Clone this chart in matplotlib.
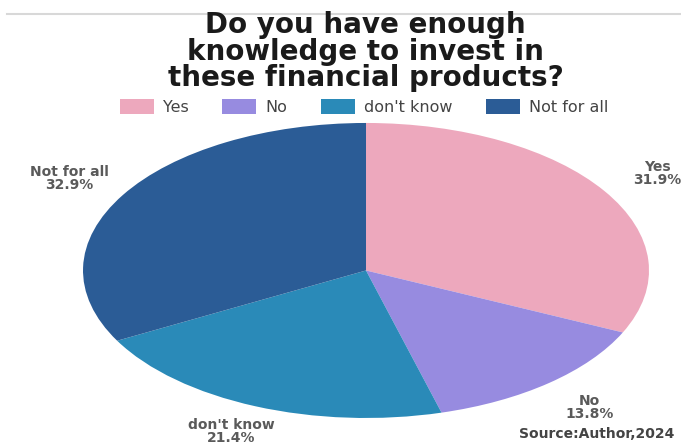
import matplotlib
matplotlib.use("Agg")
import matplotlib.pyplot as plt
from matplotlib.patches import Patch
from matplotlib.lines import Line2D

plt.rcParams['font.family'] = ['DejaVu Sans']

# survey answers
answers = ['Yes', 'No', "don't know", 'Not for all']
shares = [31.9, 13.8, 21.4, 32.9]
colors = ['#eda8bd', '#978be0', '#2a8ab8', '#2b5c96']
title = 'Do you have enough\nknowledge to invest in\nthese financial products?'
source = 'Source:Author,2024'

fig = plt.figure(figsize=(6.81, 4.47), dpi=100)

# thin grey rule across the top
fig.add_artist(Line2D([0.01, 1.0], [0.969, 0.969], transform=fig.transFigure,
                      color='#d8d8d8', lw=1.5))

fig.text(0.537, 0.975, title, ha='center', va='top', fontsize=20,
         fontweight='bold', color='#1a1a1a', linespacing=0.93)

handles = [Patch(facecolor=c, edgecolor='none') for c in colors]
fig.legend(handles, answers, loc='center', bbox_to_anchor=(0.535, 0.76),
           ncol=4, frameon=False, fontsize=11.5, handlelength=2.1,
           handleheight=1.0, handletextpad=0.6, columnspacing=2.1,
           labelcolor='#444444')

# stretched pie: axes box spans the ellipse
ax = fig.add_axes([0.1219, 0.0649, 0.8311, 0.66])
labels = [f'{a}\n{s}%' for a, s in zip(answers, shares)]
wedges, texts = ax.pie(shares, colors=colors, startangle=90, counterclock=False,
                       labels=labels, labeldistance=1.22, radius=1,
                       textprops=dict(ha='center', va='center', fontsize=10,
                                      fontweight='bold', color='#5a5a5a',
                                      linespacing=0.92))
ax.set_aspect('auto')
ax.set_xlim(-1, 1)
ax.set_ylim(-1, 1)

# keep the bottom label inside the figure
x, y = texts[2].get_position()
texts[2].set_position((x, y + 0.03))

fig.text(0.991, 0.013, source, ha='right', va='bottom', fontsize=10,
         fontweight='bold', color='#444444')

fig.savefig('out.png', dpi=100, facecolor='white')
